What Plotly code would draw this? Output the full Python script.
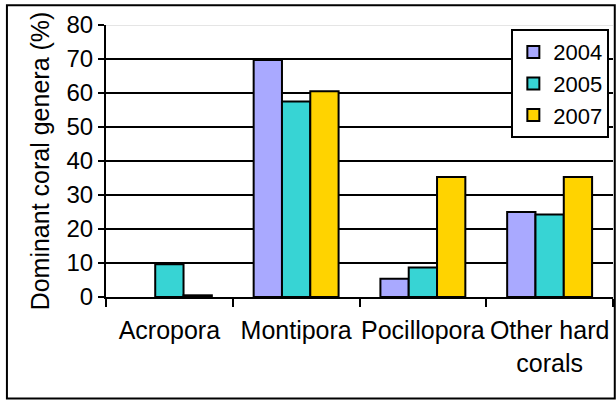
import plotly.graph_objects as go

categories = ["Acropora", "Montipora", "Pocillopora", "Other hard<br>corals"]
years = ["2004", "2005", "2007"]
v2004 = [None, 69.7, 5.4, 25.0]
v2005 = [9.6, 57.5, 8.7, 24.3]
v2007 = [0.5, 60.5, 35.3, 35.3]
colors = ["#A9A9FF", "#37D4D4", "#FFD300"]

fig = go.Figure()
for name, vals, c in zip(years, [v2004, v2005, v2007], colors):
    fig.add_trace(go.Bar(x=categories, y=vals, name=name,
                         marker=dict(color=c, line=dict(color="black", width=2))))

font = dict(family="Liberation Sans, Arial, sans-serif", size=24, color="black")
fig.update_layout(
    width=616, height=400,
    margin=dict(l=106, r=3, t=25, b=103, autoexpand=False),
    paper_bgcolor="white", plot_bgcolor="white",
    font=font,
    barmode="group", bargap=0.33, bargroupgap=0,
    showlegend=True,
    legend=dict(x=0.7995, y=0.985, xanchor="left", yanchor="top",
                bordercolor="black", borderwidth=2, bgcolor="white",
                font=dict(size=22), itemwidth=30, tracegroupgap=0),
    xaxis=dict(showline=True, linecolor="black", linewidth=2,
               ticks="outside", tickson="boundaries", ticklen=8, tickwidth=2,
               tickcolor="black", ticklabelstandoff=10, showgrid=False,
               tickangle=0, tickfont=dict(size=25), automargin=False),
    yaxis=dict(range=[0, 80], dtick=10, showline=True, linecolor="black", linewidth=2,
               ticks="outside", ticklen=6, tickwidth=2, tickcolor="black",
               showgrid=True, gridcolor="black", gridwidth=2,
               zeroline=False, tickfont=dict(size=24), automargin=False,
               title=dict(text="Dominant coral genera (%)", font=dict(size=25), standoff=10)),
    shapes=[
        dict(type="rect", xref="paper", yref="paper", x0=-0.1954, x1=1.0035, y0=-0.373, y1=1.073,
             line=dict(color="black", width=2), fillcolor="rgba(0,0,0,0)", layer="below"),
        dict(type="line", xref="paper", yref="y", x0=0, x1=1, y0=80, y1=80,
             line=dict(color="#CCCCCC", width=1)),
    ],
)
fig.write_html("out.html", config={"displayModeBar": False},
               post_script="document.body.style.margin='0px';")
